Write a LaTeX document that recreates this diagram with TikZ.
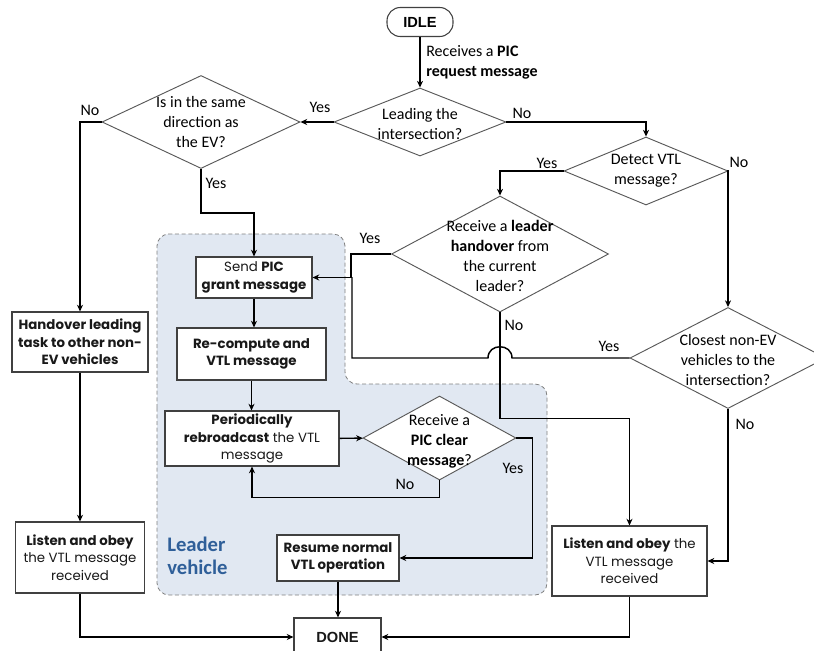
\documentclass[tikz,border=0pt]{standalone}
\usepackage{fontspec}
\setmainfont{Carlito}
\newfontfamily\boxfont{Poppins}
\newfontfamily\termfont{Liberation Sans}
\usepackage{tikz}
\usetikzlibrary{shapes.geometric,arrows.meta}
\definecolor{leaderblue}{HTML}{2F5F99}
\definecolor{regionfill}{HTML}{E1E8F2}

\begin{document}
\begin{tikzpicture}[x=0.75pt,y=-0.75pt,
    dia/.style={draw=black!65,line width=0.7pt,fill=white,diamond,inner sep=0pt},
    dtext/.style={align=center,inner sep=0pt,font=\fontsize{12}{15}\selectfont},
    box/.style={draw=black!75,line width=0.8pt,fill=white,align=center,inner sep=0pt,
      text=black!90,font=\boxfont\fontsize{10}{13}\selectfont},
    lab/.style={inner sep=0pt,font=\fontsize{12}{15}\selectfont},
    arr/.style={line width=1.1pt,-{Stealth[length=5pt,width=4.5pt,inset=1.5pt]}},
    line/.style={line width=1.1pt}]
  \useasboundingbox (0,0) rectangle (814,650);
  % leader vehicle region
  \draw[fill=regionfill,draw=black!50,densely dashed,line width=0.6pt,rounded corners=9pt]
    (157,420) -- (157,234) -- (345,234) -- (345,384) -- (547,384) -- (547,595) -- (157,595) -- cycle;
  \node[font=\bfseries\fontsize{15.5}{17.5}\selectfont,text=leaderblue,align=left,anchor=west,inner sep=0pt]
    (leaderT) at (167,556) {Leader\\vehicle};

  \node[draw=black!75,line width=0.8pt,rounded corners=10pt,minimum width=49.5pt,minimum height=21.75pt,
    inner sep=0pt,font=\termfont\bfseries\fontsize{11}{13}\selectfont] (idle) at (420,22) {IDLE};

  % decisions
  \node[dia,minimum width=129pt,minimum height=51pt] (lead) at (420,122) {};
  \node[dtext] (leadT) at (420,124) {Leading the\\intersection?};
  \node[dia,minimum width=148.5pt,minimum height=69.75pt] (same) at (201,122) {};
  \node[dtext] (sameT) at (same) {Is in the same\\direction as\\the EV?};
  \node[dia,minimum width=123pt,minimum height=51pt] (detect) at (646,171) {};
  \node[dtext] (detectT) at (detect) {Detect VTL\\message?};
  \node[dia,minimum width=162.75pt,minimum height=87pt] (recv) at (500,254) {};
  \node[dtext] (recvT) at (500,256) {Receive a \textbf{leader}\\\textbf{handover} from\\the current\\leader?};
  \node[dia,minimum width=147pt,minimum height=75.75pt] (close) at (728,358) {};
  \node[dtext] (closeT) at (728,360) {Closest non-EV\\vehicles to the\\intersection?};
  \node[dia,minimum width=114.75pt,minimum height=63pt] (clear) at (439.5,438) {};
  \node[dtext] (clearT) at (439.5,441) {Receive a\\\textbf{PIC clear}\\\textbf{message}?};

  % actions
  \node[box,minimum width=102pt,minimum height=45pt] (hand) at (80,342) {\textbf{Handover leading}\\\textbf{task to other non-}\\\textbf{EV vehicles}};
  \node[box,minimum width=96.75pt,minimum height=53.25pt] (lstL) at (80,557.5) {\textbf{Listen and obey}\\the VTL message\\received};
  \node[box,minimum width=116.25pt,minimum height=52.5pt] (lstR) at (629.5,561) {\textbf{Listen and obey} the\\VTL message\\received};
  \node[box,minimum width=87pt,minimum height=30.75pt] (send) at (254,277.5) {Send \textbf{PIC}\\\textbf{grant message}};
  \node[box,minimum width=111.75pt,minimum height=39pt] (recomp) at (251.5,354) {\textbf{Re-compute and}\\\textbf{VTL message}};
  \node[box,minimum width=130.5pt,minimum height=41.25pt] (period) at (252,438.5) {\textbf{Periodically}\\\textbf{rebroadcast} the VTL\\message};
  \node[box,minimum width=91.5pt,minimum height=34.5pt] (resume) at (338,558) {\textbf{Resume normal}\\\textbf{VTL operation}};
  \node[box,minimum width=65.25pt,minimum height=28.5pt,font=\termfont\bfseries\fontsize{11}{13}\selectfont] (done) at (337.5,637) {DONE};

  % connectors
  \draw[arr] (idle) -- (lead);
  \node[lab,anchor=west,align=left] (reqT) at (426,62) {Receives a \textbf{PIC}\\\textbf{request message}};
  \draw[arr] (lead.west) -- (same.east);
  \node[lab] (yes1) at (320,107) {Yes};
  \draw[arr] (same.west) -| (hand.north);
  \node[lab] (no1) at (90,110) {No};
  \draw[arr] (same.south) -- ++(0,44) -| (send.north);
  \node[lab] (yes2) at (216,183) {Yes};
  \draw[arr] (lead.east) -| (detect.north);
  \node[lab] (no2) at (522,113) {No};
  \draw[arr] (detect.west) -| (recv.north);
  \node[lab] (yes3) at (547,163) {Yes};
  \draw[arr] (detect.east) -| (close.north);
  \node[lab] (no3) at (739,162) {No};
  \draw[arr] (recv.west) -- ++(-40,0) |- (send.east);
  \node[lab] (yes4) at (370,238) {Yes};
  \coordinate (hopR) at (512,358);
  \coordinate (hopL) at (488,358);
  \coordinate (join) at (352,277);
  \draw[line] (close.west) -- (hopR) .. controls (512,343) and (488,343) .. (hopL) -| (join);
  \node[lab] (yes5) at (609,346) {Yes};
  \draw[arr] (recv.south) -- ++(0,106) -| (lstR.north);
  \node[lab] (no4) at (514,325) {No};
  \draw[arr] (close.south) |- (lstR.east);
  \node[lab] (no5) at (745,424) {No};
  \draw[arr] (hand) -- (lstL);
  \draw[arr] (lstL.south) |- (done.west);
  \draw[arr] (lstR.south) |- (done.east);
  \draw[arr] (send.south) -- (send.south |- recomp.north);
  \draw[arr] (recomp.south) -- (recomp.south |- period.north);
  \draw[arr] (period) -- (clear);
  \draw[arr] (clear.south) -- ++(0,17) -| (period.south);
  \node[lab] (no6) at (405,484) {No};
  \draw[arr] (clear.east) -- ++(16,0) |- (resume.east);
  \node[lab] (yes6) at (513,468) {Yes};
  \draw[arr] (resume.south) -- (resume.south |- done.north);
\end{tikzpicture}
\end{document}
